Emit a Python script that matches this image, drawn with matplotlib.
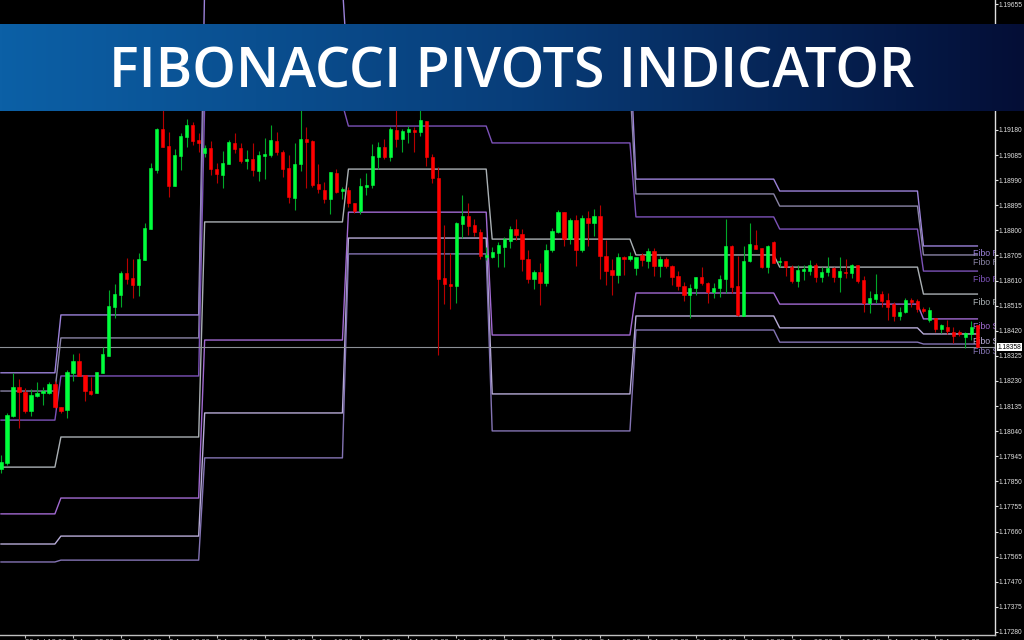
import numpy as np
import matplotlib
matplotlib.use('Agg')
import matplotlib.pyplot as plt
import matplotlib.transforms as mtransforms

# EURUSD H1 candles, prices in points (1 point = 0.00001)
opens = [117897, 117920, 118097, 118208, 118188, 118116, 118173, 118185, 118185, 118219,
         118132, 118120, 118261, 118305, 118253, 118192, 118185, 118261, 118324, 118510,
         118555, 118639, 118620, 118593, 118688, 118805, 119029, 119184, 119119, 118968,
         119081, 119154, 119199, 119142, 119093, 119112, 119032, 119010, 119051, 119131,
         119112, 119062, 119070, 119025, 119081, 119085, 119138, 119096, 119036, 118923,
         119051, 119146, 119138, 118976, 118953, 118919, 119018, 118949, 118953, 118904,
         118873, 118964, 118972, 119078, 119116, 119078, 119180, 119146, 119172, 119180,
         119172, 119214, 119078, 118998, 118620, 118597, 118589, 118824, 118854, 118820,
         118794, 118699, 118699, 118715, 118737, 118760, 118805, 118786, 118692, 118616,
         118642, 118601, 118726, 118794, 118869, 118767, 118839, 118726, 118847, 118828,
         118854, 118703, 118650, 118631, 118699, 118692, 118658, 118707, 118684, 118722,
         118665, 118692, 118665, 118627, 118589, 118555, 118582, 118624, 118601, 118567,
         118582, 118616, 118741, 118589, 118476, 118684, 118745, 118733, 118661, 118756,
         118680, 118684, 118661, 118608, 118646, 118646, 118669, 118624, 118642, 118658,
         118624, 118642, 118639, 118669, 118612, 118525, 118540, 118559, 118537, 118521,
         118476, 118491, 118537, 118533, 118502, 118461, 118469, 118427, 118435, 118415,
         118415, 118397, 118408, 118442]
highs = [117950, 118109, 118261, 118238, 118204, 118200, 118226, 118208, 118226, 118230,
         118132, 118272, 118332, 118336, 118253, 118246, 118264, 118359, 118574, 118597,
         118646, 118696, 118692, 118715, 118828, 119055, 119188, 119264, 119172, 119108,
         119169, 119222, 119210, 119169, 119123, 119138, 119055, 119100, 119142, 119169,
         119131, 119104, 119131, 119100, 119150, 119199, 119172, 119104, 119085, 119131,
         119264, 119191, 119142, 119051, 118983, 119021, 119032, 118964, 118964, 118904,
         118998, 119018, 119127, 119134, 119146, 119191, 119264, 119184, 119195, 119191,
         119275, 119214, 119089, 119040, 118820, 118715, 118832, 118934, 118904, 118843,
         118805, 118737, 118737, 118756, 118775, 118816, 118843, 118805, 118726, 118650,
         118677, 118748, 118809, 118877, 118869, 118847, 118858, 118858, 118873, 118881,
         118896, 118764, 118692, 118715, 118703, 118718, 118699, 118715, 118733, 118733,
         118703, 118699, 118669, 118646, 118604, 118597, 118624, 118661, 118604, 118601,
         118631, 118843, 118745, 118703, 118741, 118828, 118801, 118733, 118745, 118760,
         118699, 118684, 118669, 118669, 118669, 118688, 118677, 118661, 118699, 118661,
         118699, 118692, 118673, 118669, 118627, 118570, 118635, 118570, 118563, 118529,
         118510, 118544, 118544, 118540, 118510, 118510, 118469, 118446, 118461, 118435,
         118423, 118415, 118457, 118442]
lows = [117882, 117912, 118094, 118052, 118109, 118097, 118170, 118139, 118181, 118128,
        118109, 118090, 118230, 118249, 118154, 118177, 118185, 118261, 118324, 118469,
        118510, 118597, 118544, 118551, 118688, 118805, 119018, 119116, 118927, 118968,
        119029, 119116, 119123, 119096, 119078, 119010, 118980, 118961, 119051, 119093,
        119055, 119032, 119006, 118987, 118994, 119078, 119085, 119002, 118904, 118877,
        119025, 118961, 118964, 118941, 118904, 118862, 118941, 118919, 118889, 118866,
        118862, 118934, 118961, 119032, 119070, 119062, 119116, 119096, 119131, 119096,
        119157, 119044, 118980, 118328, 118521, 118502, 118525, 118771, 118783, 118779,
        118692, 118688, 118696, 118661, 118661, 118733, 118764, 118646, 118601, 118578,
        118518, 118589, 118718, 118790, 118741, 118748, 118665, 118718, 118741, 118779,
        118616, 118593, 118555, 118601, 118631, 118684, 118631, 118665, 118658, 118627,
        118624, 118658, 118593, 118574, 118533, 118469, 118555, 118593, 118525, 118544,
        118548, 118563, 118563, 118476, 118476, 118680, 118730, 118658, 118639, 118677,
        118661, 118627, 118601, 118586, 118612, 118631, 118604, 118604, 118627, 118604,
        118567, 118620, 118620, 118601, 118491, 118487, 118525, 118510, 118461, 118457,
        118461, 118487, 118510, 118491, 118487, 118453, 118415, 118412, 118408, 118374,
        118400, 118355, 118385, 118358]
closes = [117923, 118101, 118208, 118188, 118116, 118177, 118185, 118192, 118219, 118132,
          118116, 118264, 118305, 118249, 118192, 118181, 118264, 118332, 118514, 118559,
          118639, 118616, 118593, 118692, 118809, 119036, 119184, 119116, 118968, 119085,
          119157, 119199, 119138, 119131, 119112, 119032, 119014, 119055, 119134, 119108,
          119062, 119070, 119029, 119085, 119089, 119142, 119096, 119032, 118927, 119051,
          119146, 119134, 118972, 118957, 118919, 119021, 118945, 118957, 118904, 118873,
          118968, 118972, 119081, 119116, 119078, 119184, 119146, 119176, 119184, 119172,
          119218, 119078, 118998, 118616, 118597, 118589, 118828, 118854, 118816, 118794,
          118703, 118707, 118718, 118745, 118767, 118805, 118783, 118692, 118616, 118642,
          118601, 118726, 118798, 118869, 118767, 118839, 118726, 118847, 118828, 118854,
          118703, 118646, 118631, 118699, 118692, 118703, 118699, 118688, 118722, 118665,
          118692, 118665, 118624, 118589, 118555, 118582, 118624, 118601, 118567, 118582,
          118616, 118741, 118586, 118480, 118684, 118748, 118730, 118661, 118741, 118677,
          118684, 118661, 118608, 118650, 118654, 118669, 118624, 118642, 118658, 118624,
          118646, 118639, 118669, 118608, 118525, 118544, 118559, 118533, 118510, 118476,
          118491, 118537, 118529, 118502, 118495, 118499, 118427, 118442, 118419, 118400,
          118408, 118412, 118435, 118358]

# daily Fibonacci pivot levels (points), one value per day, day starts at bar index
day_start = [0, 10, 34, 58, 82, 106, 130, 154]
r3 = [118261, 118480, 119725, 119358, 119494, 118994, 118949, 118741]
r2 = [118192, 118393, 119555, 119294, 119354, 118938, 118892, 118707]
r1 = [118082, 118249, 119278, 119195, 119131, 118851, 118805, 118646]
pp = [117904, 118018, 118832, 119032, 118767, 118707, 118661, 118559]
s1 = [117727, 117787, 118385, 118869, 118404, 118563, 118521, 118465]
s2 = [117613, 117643, 118109, 118771, 118181, 118476, 118431, 118408]
s3 = [117545, 117552, 117939, 118711, 118041, 118423, 118377, 118370]
level_names = ['Fibo R3', 'Fibo R2', 'Fibo R1', 'Fibo P', 'Fibo S1', 'Fibo S2', 'Fibo S3']
level_colors = ['#9c82da', '#8a84a6', '#7c52b8', '#aab0b4', '#a26ad2', '#b8acd8', '#8474b4']

bid = 118358

price_ticks = [117280 + 95 * k for k in range(26)]
time_ticks = [4, 12, 20, 28, 36, 44, 52, 60, 68, 76, 84, 92, 100, 108, 116, 124, 132, 140, 148, 156]
time_labels = ['30 Jul 18:00', '2 Aug 02:00', '2 Aug 10:00', '2 Aug 18:00', '3 Aug 02:00',
               '3 Aug 10:00', '3 Aug 18:00', '4 Aug 02:00', '4 Aug 10:00', '4 Aug 18:00',
               '5 Aug 02:00', '5 Aug 10:00', '5 Aug 18:00', '6 Aug 02:00', '6 Aug 10:00',
               '6 Aug 18:00', '9 Aug 02:00', '9 Aug 10:00', '9 Aug 18:00', '10 Aug 02:00']

title = 'FIBONACCI PIVOTS INDICATOR'

small_font = ['Liberation Sans', 'DejaVu Sans']

o = np.array(opens) / 1e5
h = np.array(highs) / 1e5
l = np.array(lows) / 1e5
c = np.array(closes) / 1e5
x = np.arange(len(o))

fig = plt.figure(figsize=(10.24, 6.4), dpi=100, facecolor='black')
ax = fig.add_axes([0, 5 / 640, 995 / 1024, 635 / 640])
ax.set_facecolor('black')

# pivot lines, stepping from day to day
seg_len = np.diff(day_start + [len(o)])
for vals, name, col in zip([r3, r2, r1, pp, s1, s2, s3], level_names, level_colors):
    series = np.repeat(np.array(vals) / 1e5, seg_len)
    ax.plot(x, series, color=col, lw=1.0, zorder=1)
    ax.text(162.3, vals[-1] / 1e5, name, color=col, fontsize=6.3, va='top', ha='left',
            family=small_font, clip_on=True,
            transform=mtransforms.offset_copy(ax.transData, fig, y=-2.5, units='points'))

# bid line
ax.axhline(bid / 1e5, color='#8c9096', lw=0.8, zorder=1)

# candles
up = c >= o
ax.vlines(x[up], l[up], h[up], color='#00a828', lw=0.8, zorder=2)
ax.vlines(x[~up], l[~up], h[~up], color='#b80000', lw=0.8, zorder=2)
ax.bar(x[up], c[up] - o[up], bottom=o[up], width=0.55, color='#00ff3c',
       edgecolor='#00ff3c', linewidth=0.4, zorder=3)
ax.bar(x[~up], c[~up] - o[~up], bottom=o[~up], width=0.55, color='#ff0000',
       edgecolor='#ff0000', linewidth=0.4, zorder=3)

ax.set_xlim(-1 / 5.99, 994 / 5.99)
ax.set_ylim(1.172686, 1.196720)

for side in ['left', 'top']:
    ax.spines[side].set_visible(False)
ax.spines['right'].set_color('#e0e0e0')
ax.spines['bottom'].set_color('#c0c0c0')
ax.spines['right'].set_linewidth(1.0)
ax.spines['bottom'].set_linewidth(1.0)

ax.yaxis.tick_right()
ax.set_yticks(np.array(price_ticks) / 1e5)
ax.set_yticklabels(['%.5f' % (p / 1e5) for p in price_ticks])
ax.tick_params(axis='y', colors='#e0e0e0', length=2, width=0.8, pad=0.8, labelsize=4.8)
ax.set_xticks(time_ticks)
ax.set_xticklabels(time_labels, ha='left')
ax.tick_params(axis='x', colors='#c0c0c0', length=2, width=0.8, pad=1, labelsize=5.5)
for lbl in ax.get_yticklabels() + ax.get_xticklabels():
    lbl.set_family(small_font)

# current price box
ax.text(1.0025, bid / 1e5, '%.5f' % (bid / 1e5), transform=ax.get_yaxis_transform(),
        va='center', ha='left', fontsize=4.8, color='black', family=small_font,
        bbox=dict(facecolor='white', edgecolor='none', pad=0.6), clip_on=False, zorder=5)

# title banner
bx = fig.add_axes([0, 529 / 640, 1, 87 / 640])
grad = np.linspace(0, 1, 512)
cols = np.array([[12, 96, 166], [8, 62, 122], [4, 14, 54]]) / 255
img = np.stack([np.interp(grad, [0, 0.5, 1], cols[:, k]) for k in range(3)], axis=-1)
bx.imshow(img[None, :, :], aspect='auto', extent=[0, 1, 0, 1])
bx.set_xlim(0, 1)
bx.set_ylim(0, 1)
bx.axis('off')
bx.text(0.5, 24 / 87, title, color='white', fontsize=40, ha='center', va='baseline',
        family='Open Sans', weight='semibold')

fig.savefig('out.png', dpi=100, facecolor='black')
